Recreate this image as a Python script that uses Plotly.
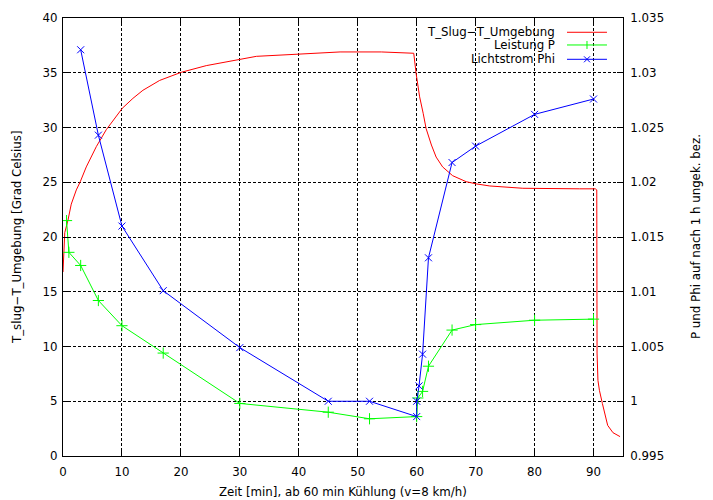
import plotly.graph_objects as go

# ---- data ----
t_x = [0, 0.1, 0.3, 0.85, 1.4, 2.26, 2.93, 3.95, 5.65, 7.34, 10.05, 11.86, 13.56, 16.4, 20.05,
       24.3, 30.2, 32.8, 40.0, 47.0, 54.0, 59.5, 59.9, 60.5, 61.1, 61.6, 62.5, 63.3, 64.4,
       66.1, 68.4, 70.1, 72.4, 78.0, 87.6, 90.3, 90.55, 90.6, 90.75, 91.0, 91.5, 91.9,
       92.4, 93.3, 94.5]
t_y = [16.8, 18.7, 20.4, 21.55, 23.0, 24.3, 25.05, 26.4, 28.25, 29.8, 31.75, 32.66, 33.4, 34.3, 35.04,
       35.65, 36.2, 36.5, 36.7, 36.9, 36.9, 36.78, 34.95, 32.8, 31.3, 29.9, 28.4, 27.3, 26.4,
       25.6, 25.05, 24.85, 24.66, 24.45, 24.4, 24.4, 24.3, 9.4, 6.9, 6.0, 4.8, 3.9,
       2.8, 2.13, 1.77]

p_x = [0.6, 1.0, 3.0, 6.0, 10.0, 17.0, 30.0, 45.0, 52.0, 60.0, 60.2, 61.0, 62.0, 66.0, 70.0, 80.0, 90.0]
p_y = [1.0165, 1.0136, 1.0124, 1.0092, 1.0069, 1.0044, 0.9998, 0.9990, 0.9984, 0.9986,
       1.0003, 1.0009, 1.0032, 1.0065, 1.0070, 1.0074, 1.0075]

phi_x = [3.0, 6.0, 10.0, 17.0, 30.0, 45.0, 52.0, 60.0, 60.0, 60.4, 61.0, 62.0, 66.0, 70.0, 80.0, 90.0]
phi_y = [1.0321, 1.0243, 1.0160, 1.0101, 1.0049, 1.0000, 1.0000, 0.9986, 1.0000, 1.0014,
         1.0043, 1.0131, 1.0218, 1.0233, 1.0262, 1.0276]

y2_ticks = [0.995, 1.0, 1.005, 1.01, 1.015, 1.02, 1.025, 1.03, 1.035]
y2_labels = ["0.995", "1", "1.005", "1.01", "1.015", "1.02", "1.025", "1.03", "1.035"]

names = ["T_Slug\u2212T_Umgebung", "Leistung P", "Lichtstrom Phi"]
colors = ["#ff0000", "#00ff00", "#0000ff"]

FONT = dict(family="DejaVu Sans", size=11.8, color="black")

fig = go.Figure()
fig.add_trace(go.Scatter(x=t_x, y=t_y, mode="lines", name=names[0],
                         line=dict(color=colors[0], width=1), showlegend=False))
fig.add_trace(go.Scatter(x=p_x, y=p_y, mode="lines+markers", name=names[1], yaxis="y2",
                         line=dict(color=colors[1], width=1),
                         marker=dict(symbol="cross-thin", size=8,
                                     line=dict(color=colors[1], width=1)),
                         showlegend=False))
fig.add_trace(go.Scatter(x=phi_x, y=phi_y, mode="lines+markers", name=names[2], yaxis="y2",
                         line=dict(color=colors[2], width=1),
                         marker=dict(symbol="x-thin", size=7,
                                     line=dict(color=colors[2], width=1)),
                         showlegend=False))

axis_common = dict(ticks="inside", ticklen=6, tickcolor="black", tickwidth=1,
                   showline=True, linecolor="black", linewidth=1,
                   zeroline=False, tickfont=FONT, automargin=False)

fig.update_layout(
    width=713, height=500,
    margin=dict(l=63, r=90, t=18, b=44),
    paper_bgcolor="white", plot_bgcolor="white",
    font=FONT,
    showlegend=False,
    xaxis=dict(range=[0, 95], tick0=0, dtick=10, mirror="ticks", ticklabelstandoff=5,
               showgrid=True, gridcolor="black", gridwidth=1, griddash="3px,2px",
               **axis_common),
    yaxis=dict(range=[0, 40], tick0=0, dtick=5, mirror="ticks", ticklabelstandoff=2,
               showgrid=True, gridcolor="black", gridwidth=1, griddash="3px,2px",
               **axis_common),
    yaxis2=dict(range=[0.995, 1.035], overlaying="y", side="right", ticklabelstandoff=4,
                tickvals=y2_ticks, ticktext=y2_labels, showgrid=False,
                **axis_common),
)

# axis titles
fig.add_annotation(text="Zeit [min], ab 60 min K\u00fchlung (v=8 km/h)", xref="paper", yref="paper",
                   x=0.5, y=0, yshift=-36, showarrow=False, xanchor="center", yanchor="middle",
                   font=FONT)
fig.add_annotation(text="T_slug\u2212T_Umgebung [Grad Celsius]", xref="paper", yref="paper",
                   x=0, y=0.5, xshift=-46, showarrow=False, textangle=-90,
                   xanchor="center", yanchor="middle", font=FONT)
fig.add_annotation(text="P und Phi auf nach 1 h ungek. bez.", xref="paper", yref="paper",
                   x=1, y=0.5, xshift=73, showarrow=False, textangle=-90,
                   xanchor="center", yanchor="middle", font=FONT)

# custom legend (gnuplot style: text right, sample to the right)
rows = [0.9674, 0.9384, 0.9057]
for i, (nm, col, ry) in enumerate(zip(names, colors, rows)):
    fig.add_annotation(text=nm, xref="paper", yref="paper", x=0.882, y=ry,
                       showarrow=False, xanchor="right", yanchor="middle", font=FONT)
    fig.add_shape(type="line", xref="paper", yref="paper", x0=0.9, x1=0.9714, y0=ry, y1=ry,
                  line=dict(color=col, width=1))
    if i == 1:
        fig.add_shape(type="line", xref="paper", yref="paper", xsizemode="pixel", ysizemode="pixel",
                      xanchor=0.9357, yanchor=ry, x0=0, x1=0, y0=-4, y1=4,
                      line=dict(color=col, width=1))
    if i == 2:
        for s in (1, -1):
            fig.add_shape(type="line", xref="paper", yref="paper", xsizemode="pixel", ysizemode="pixel",
                          xanchor=0.9357, yanchor=ry, x0=-3, x1=3, y0=-3 * s, y1=3 * s,
                          line=dict(color=col, width=1))

fig.write_html("out.html", config={"displayModeBar": False},
               post_script="document.body.style.margin='0';document.body.style.overflow='hidden';")
